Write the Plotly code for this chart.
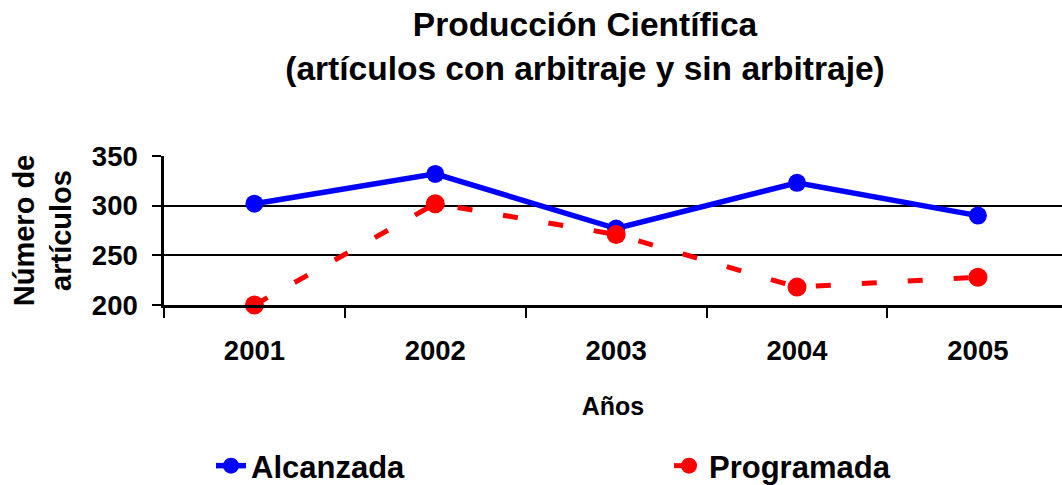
import plotly.graph_objects as go

years = ["2001", "2002", "2003", "2004", "2005"]
alcanzada = [302, 332, 277, 323, 290]
programada = [200, 302, 271, 218, 228]
y_ticks = [200, 250, 300, 350]

FONT = "Liberation Sans, Arial, sans-serif"

fig = go.Figure()
fig.add_trace(go.Scatter(
    x=years, y=alcanzada, name="Alcanzada", mode="lines+markers",
    line=dict(color="#0000FF", width=5.5),
    marker=dict(color="#0000FF", size=18),
    cliponaxis=False, legend="legend",
))
fig.add_trace(go.Scatter(
    x=years, y=programada, name="Programada", mode="lines+markers",
    line=dict(color="#FF0000", width=5, dash="15px,31px"),
    marker=dict(color="#FF0000", size=19),
    cliponaxis=False, legend="legend2",
))

legend_common = dict(
    orientation="h", xanchor="left", xref="container",
    y=(485 - 466) / 485, yanchor="middle", yref="container",
    font=dict(family=FONT, size=31, weight="bold"),
    bgcolor="rgba(0,0,0,0)",
)

fig.update_layout(
    width=1062, height=485,
    margin=dict(l=164, r=0, t=156, b=180, autoexpand=False),
    paper_bgcolor="white", plot_bgcolor="white",
    font=dict(family=FONT, color="black"),
    title=dict(
        text="Producción Científica<br>(artículos con arbitraje y sin arbitraje)",
        font=dict(family=FONT, size=33.5, weight="bold", color="black"),
        x=585 / 1062, xanchor="center", xref="container",
        y=0.925, yanchor="top", yref="container",
    ),
    xaxis=dict(
        type="category", range=[-0.5, 4.465],
        showline=True, linecolor="black", linewidth=3,
        ticks="outside", tickson="boundaries", ticklen=10, tickwidth=2, tickcolor="black",
        ticklabelstandoff=19,
        tickfont=dict(family=FONT, size=27.5, weight="bold"),
        showgrid=False,
        title=dict(text="Años", font=dict(family=FONT, size=25, weight="bold"), standoff=33),
    ),
    yaxis=dict(
        range=[200, 350], tickvals=y_ticks,
        showline=True, linecolor="black", linewidth=2.5,
        ticks="outside", ticklen=9, tickwidth=2, tickcolor="black",
        ticklabelstandoff=9,
        tickfont=dict(family=FONT, size=27.5, weight="bold"),
        showgrid=True, gridcolor="black", gridwidth=2,
        zeroline=False,
        title=dict(text="Número de<br>artículos", font=dict(family=FONT, size=29, weight="bold"), standoff=12),
    ),
    legend=dict(x=211 / 1062, **legend_common),
    legend2=dict(x=669 / 1062, **legend_common),
    showlegend=True,
)

fig.write_html(
    "out.html",
    config={"displayModeBar": False},
    post_script="document.body.style.margin='0';document.body.style.padding='0';",
)
